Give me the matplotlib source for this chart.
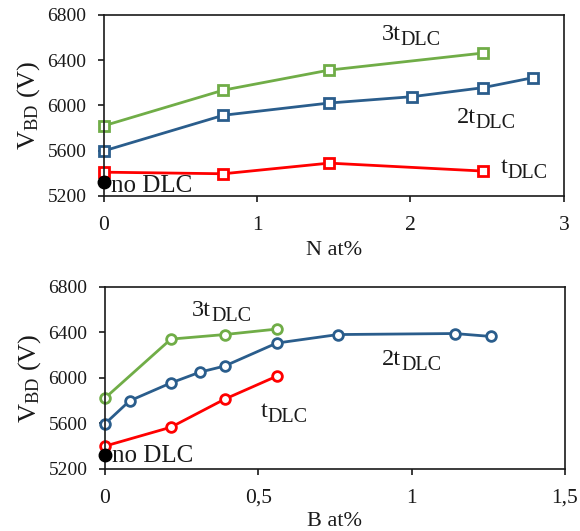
import matplotlib
matplotlib.use("Agg")
import matplotlib.pyplot as plt

plt.rcParams['font.family'] = ['Liberation Serif', 'DejaVu Serif']
plt.rcParams['mathtext.fontset'] = 'custom'
plt.rcParams['mathtext.rm'] = 'Liberation Serif'
plt.rcParams['mathtext.it'] = 'Liberation Serif:italic'

# Top panel: N doping
n_3t_x = [0, 0.78, 1.47, 2.47]
n_3t_y = [5820, 6135, 6312, 6462]
n_2t_x = [0, 0.78, 1.47, 2.01, 2.47, 2.80]
n_2t_y = [5598, 5913, 6021, 6077, 6156, 6245]
n_1t_x = [0, 0.78, 1.47, 2.47]
n_1t_y = [5410, 5396, 5490, 5420]
nodlc_x = [0]
nodlc_y = [5325]

# Bottom panel: B doping
b_3t_x = [0, 0.215, 0.39, 0.56]
b_3t_y = [5822, 6340, 6380, 6428]
b_2t_x = [0, 0.08, 0.215, 0.31, 0.39, 0.56, 0.76, 1.14, 1.26]
b_2t_y = [5596, 5797, 5955, 6050, 6103, 6305, 6380, 6389, 6363]
b_1t_x = [0, 0.215, 0.39, 0.56]
b_1t_y = [5400, 5566, 5812, 6014]

yticks = [5200, 5600, 6000, 6400, 6800]
top_xticks = [0, 1, 2, 3]
top_xlabels = ['0', '1', '2', '3']
bot_xticks = [0, 0.5, 1, 1.5]
bot_xlabels = ['0', '0,5', '1', '1,5']

green = '#70AD47'
blue = '#2A5D8C'
red = '#FF0000'
ink = '#1a1a1a'

fig = plt.figure(figsize=(5.8, 5.31), dpi=100)
ax1 = fig.add_axes([0.179, 0.631, 0.793, 0.341])
ax2 = fig.add_axes([0.181, 0.117, 0.793, 0.343])

YT = 14
XT = 15.5
XL = 16
ANN = 17.5
SUB = 14.5

def style(ax, xt, xl, xmax):
    ax.set_ylim(5200, 6800)
    ax.set_xlim(0, xmax)
    ax.set_yticks(yticks)
    ax.set_xticks(xt)
    ax.set_xticklabels(xl)
    ax.tick_params(direction='out', length=4.5, width=1.2, colors=ink, labelcolor=ink)
    ax.tick_params(axis='y', labelsize=YT, pad=8)
    ax.tick_params(axis='x', labelsize=XT, pad=10)
    for s in ax.spines.values():
        s.set_color(ink)
        s.set_linewidth(1.2)
    ax.set_ylabel('V$_{\\mathrm{BD}}$ (V)', fontsize=19, color=ink, labelpad=4)

def label(ax, x, y, main, sub):
    t = ax.text(x, y, main, fontsize=ANN, va='baseline', color=ink)
    ax.annotate(sub, xy=(1, 0), xycoords=t, xytext=(0, 0), textcoords='offset points',
                fontsize=SUB, va='baseline', ha='left', color=ink)

sq = dict(markerfacecolor='white', markeredgewidth=2, markersize=7.5, linewidth=2, clip_on=False)
ci = dict(markerfacecolor='white', markeredgewidth=2, markersize=7, linewidth=2, clip_on=False)

ax1.plot(n_3t_x, n_3t_y, marker='s', color=green, **sq)
ax1.plot(n_2t_x, n_2t_y, marker='s', color=blue, **sq)
ax1.plot(n_1t_x, n_1t_y, marker='s', color=red, **sq)
ax1.plot(nodlc_x, nodlc_y, 'o', color='black', markersize=9, clip_on=False, zorder=5)
style(ax1, top_xticks, top_xlabels, 3)
ax1.set_xlabel('N at%', fontsize=XL, color=ink, labelpad=4)
label(ax1, 1.81, 6579, '3t', 'DLC')
label(ax1, 2.30, 5844, '2t', 'DLC')
label(ax1, 2.59, 5402, 't', 'DLC')
ax1.text(0.05, 5233, 'no DLC', fontsize=18, va='baseline', color=ink)

ax2.plot(b_3t_x, b_3t_y, marker='o', color=green, **ci)
ax2.plot(b_2t_x, b_2t_y, marker='o', color=blue, **ci)
ax2.plot(b_1t_x, b_1t_y, marker='o', color=red, **ci)
ax2.plot(nodlc_x, nodlc_y, 'o', color='black', markersize=9, clip_on=False, zorder=5)
style(ax2, bot_xticks, bot_xlabels, 1.5)
ax2.set_xlabel('B at%', fontsize=XL, color=ink, labelpad=3)
label(ax2, 0.284, 6547, '3t', 'DLC')
label(ax2, 0.903, 6110, '2t', 'DLC')
label(ax2, 0.509, 5655, 't', 'DLC')
ax2.text(0.023, 5262, 'no DLC', fontsize=18, va='baseline', color=ink)

fig.savefig('out.png', dpi=100)
